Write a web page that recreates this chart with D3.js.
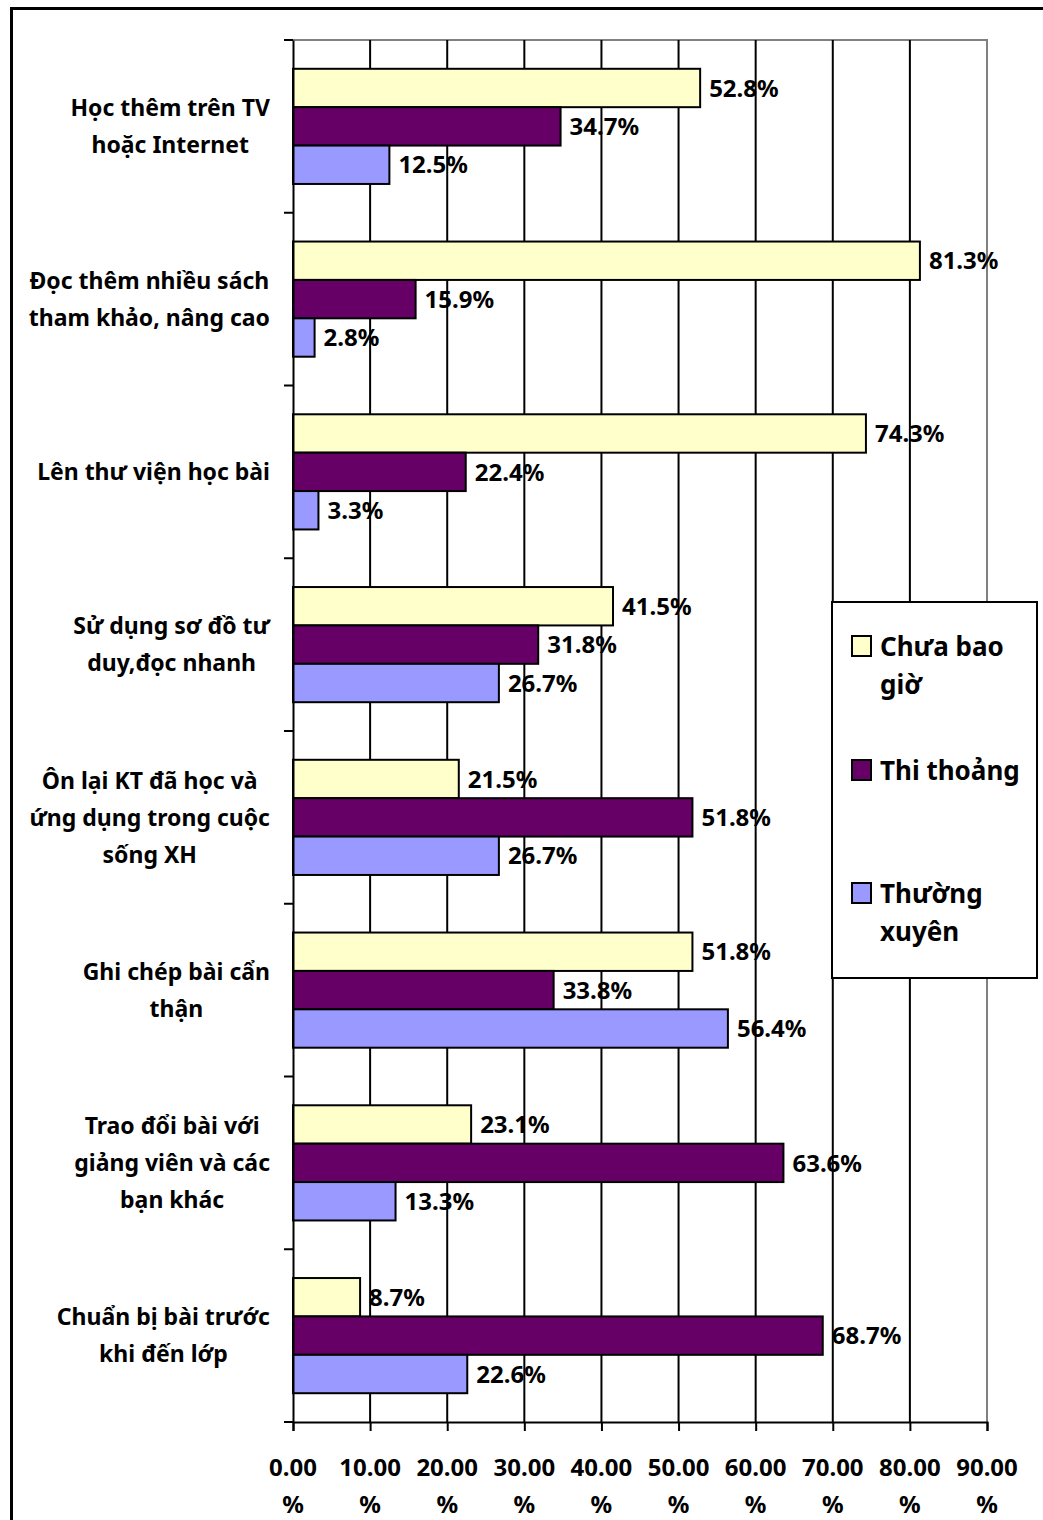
<!DOCTYPE html>
<html><head><meta charset="utf-8">
<script src="https://cdn.jsdelivr.net/npm/d3@7"></script>
<style>
html,body{margin:0;padding:0;background:#fff;}
text{font-family:"Noto Sans","Open Sans",sans-serif;font-weight:700;fill:#000;}
</style></head>
<body>
<svg id="chart" width="1043" height="1520"></svg>
<script>
const categories = [
  ["Học thêm trên TV", "hoặc Internet"],
  ["Đọc thêm nhiều sách", "tham khảo, nâng cao"],
  ["Lên thư viện học bài"],
  ["Sử dụng sơ đồ tư", "duy,đọc nhanh"],
  ["Ôn lại KT đã học và", "ứng dụng trong cuộc", "sống XH"],
  ["Ghi chép bài cẩn", "thận"],
  ["Trao đổi bài với", "giảng viên và các", "bạn khác"],
  ["Chuẩn bị bài trước", "khi đến lớp"]
];
const seriesNames = ["Chưa bao giờ", "Thi thoảng", "Thường xuyên"];
const legendLines = [["Chưa bao", "giờ"], ["Thi thoảng"], ["Thường", "xuyên"]];
const chuaBaoGio = [52.8, 81.3, 74.3, 41.5, 21.5, 51.8, 23.1, 8.7];
const thiThoang  = [34.7, 15.9, 22.4, 31.8, 51.8, 33.8, 63.6, 68.7];
const thuongXuyen= [12.5, 2.8, 3.3, 26.7, 26.7, 56.4, 13.3, 22.6];
const colors = ["#FFFFCC", "#660066", "#9999FF"];
const tickValues = [0,10,20,30,40,50,60,70,80,90];
const tickLabels = ["0.00","10.00","20.00","30.00","40.00","50.00","60.00","70.00","80.00","90.00"];

const series = [chuaBaoGio, thiThoang, thuongXuyen];
const svg = d3.select("#chart");

// outer border
svg.append("rect").attr("x",11.5).attr("y",8.5).attr("width",1100).attr("height",1600)
  .attr("fill","none").attr("stroke","#000").attr("stroke-width",3);

const x = d3.scaleLinear().domain([0,90]).range([293,987]);
const y = d3.scaleBand().domain(d3.range(categories.length)).range([40,1422]).paddingInner(1/3).paddingOuter(1/6);
const yOuter = d3.scaleBand().domain(d3.range(categories.length)).range([40,1422]);
const ySub = d3.scaleBand().domain(d3.range(3)).range([0, y.bandwidth()]);

// plot area border top/right grey
svg.append("path").attr("d",`M${x(0)},40H${x(90)}V1422`).attr("fill","none").attr("stroke","#808080").attr("stroke-width",2);

// gridlines
svg.append("g").selectAll("line").data(tickValues.filter(v=>v>0 && v<90)).join("line")
  .attr("x1",d=>x(d)).attr("x2",d=>x(d)).attr("y1",40).attr("y2",1422)
  .attr("stroke","#000").attr("stroke-width",2);

// bars
const groups = svg.append("g").selectAll("g").data(categories).join("g")
  .attr("transform",(d,i)=>`translate(0,${y(i)})`);
groups.each(function(d,i){
  const g = d3.select(this);
  series.forEach((s,k)=>{
    g.append("rect").attr("x",x(0)).attr("y",ySub(k)).attr("width",x(s[i])-x(0)).attr("height",ySub.bandwidth())
      .attr("fill",colors[k]).attr("stroke","#000").attr("stroke-width",2);
  });
});
groups.each(function(d,i){
  const g = d3.select(this);
  series.forEach((s,k)=>{
    g.append("text").attr("x",x(s[i])+9).attr("y",ySub(k)+ySub.bandwidth()/2).attr("dy","0.36em")
      .attr("font-size",24).text(s[i].toFixed(1)+"%");
  });
});

// x axis
const xAxis = d3.axisBottom(x).tickValues(tickValues).tickSize(9).tickFormat("");
const xg = svg.append("g").attr("transform","translate(0,1422)").call(xAxis);
xg.select(".domain").attr("stroke","#000").attr("stroke-width",2);
xg.selectAll(".tick line").attr("stroke","#000").attr("stroke-width",2);
const tl = svg.append("g").selectAll("g").data(tickValues).join("g");
tl.append("text").attr("x",d=>x(d)).attr("y",1467).attr("dy","0.36em").attr("text-anchor","middle").attr("font-size",24).text((d,i)=>tickLabels[i]);
tl.append("text").attr("x",d=>x(d)).attr("y",1504).attr("dy","0.36em").attr("text-anchor","middle").attr("font-size",24).text("%");

// y axis
const yAxis = d3.axisLeft(y).tickValues([]).tickSizeOuter(0).tickFormat("");
const yg = svg.append("g").attr("transform",`translate(${x(0)},0)`).call(yAxis);
yg.select(".domain").attr("stroke","#000").attr("stroke-width",2);
const bounds = d3.range(categories.length+1).map(i=> i<categories.length ? yOuter(i) : 1422);
svg.append("g").selectAll("line").data(bounds).join("line")
  .attr("x1",284).attr("x2",x(0)).attr("y1",d=>d).attr("y2",d=>d).attr("stroke","#000").attr("stroke-width",2);

// category labels
const lineH = 37;
categories.forEach((lines,i)=>{
  const cy = yOuter(i) + yOuter.bandwidth()/2;
  const g = svg.append("g");
  const texts = lines.map((ln,j)=> g.append("text").attr("y", cy + (j-(lines.length-1)/2)*lineH).attr("dy","0.36em")
      .attr("text-anchor","middle").attr("font-size",23).text(ln));
  const maxW = d3.max(texts, t=>t.node().getComputedTextLength());
  texts.forEach(t=>t.attr("x", 270 - maxW/2));
});

// legend
const lg = svg.append("g");
lg.append("rect").attr("x",832).attr("y",602).attr("width",205).attr("height",376)
  .attr("fill","#fff").attr("stroke","#000").attr("stroke-width",2);
const legY = [647, 771, 894];
legendLines.forEach((lines,k)=>{
  lg.append("rect").attr("x",852).attr("y",legY[k]-11).attr("width",19).attr("height",20)
    .attr("fill",colors[k]).attr("stroke","#000").attr("stroke-width",2);
  lines.forEach((ln,j)=>{
    lg.append("text").attr("x",880).attr("y",legY[k]+j*38).attr("dy","0.36em").attr("font-size",26).text(ln);
  });
});
</script>
</body></html>
